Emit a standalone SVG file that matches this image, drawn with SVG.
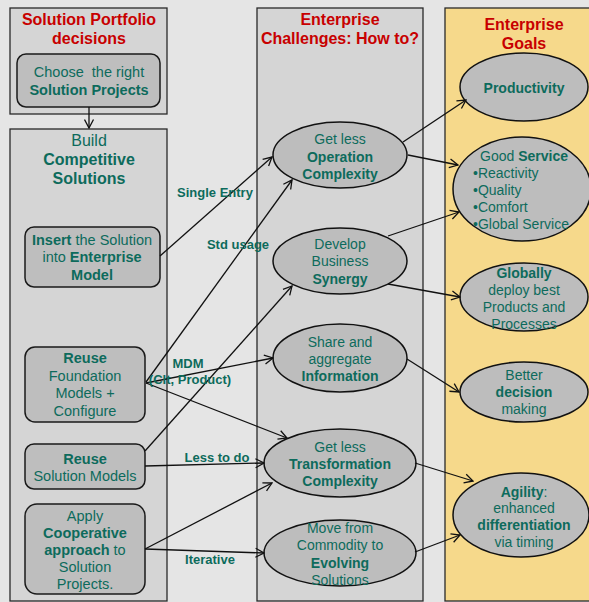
<svg xmlns="http://www.w3.org/2000/svg" width="589" height="602" viewBox="0 0 589 602">
  <defs>
    <marker id="arr" markerWidth="11" markerHeight="11" refX="10" refY="5.5" orient="auto" markerUnits="userSpaceOnUse">
      <path d="M1.5,1 L10,5.5 L1.5,10" fill="none" stroke="#111" stroke-width="1.3"/>
    </marker>
    <style>
      text { font-family: "Liberation Sans", Arial, sans-serif; fill: #0d6b5c; }
      .title { font-size: 16px; font-weight: bold; fill: #c80000; text-anchor: middle; }
      .big { font-size: 16px; text-anchor: middle; }
      .t { font-size: 14.5px; text-anchor: middle; }
      .e { font-size: 14px; text-anchor: middle; }
      .e.l { text-anchor: start; }
      .pre { white-space: pre; }
      .lbl { font-size: 13px; font-weight: bold; text-anchor: middle; }
      .b { font-weight: bold; }
      .panel { fill: #d5d5d5; stroke: #2a2a2a; stroke-width: 1.3; }
      .goalpanel { fill: #f6d98b; stroke: #2a2a2a; stroke-width: 1.3; }
      .box { fill: #bebebe; stroke: #1a1a1a; stroke-width: 1.5; }
      .oval { fill: #bdbdbd; stroke: #111; stroke-width: 1.5; }
      .conn line { stroke: #111; stroke-width: 1.3; marker-end: url(#arr); }
    </style>
  </defs>

  <rect width="589" height="602" fill="#e5e5e5"/>

  <!-- panels -->
  <g id="portfolio">
    <rect class="panel" x="10" y="8" width="157" height="106"/>
    <text class="title" x="89" y="25">Solution Portfolio</text>
    <text class="title" x="89" y="44">decisions</text>
  </g>
  <g id="build">
    <rect class="panel" x="10" y="129" width="157" height="472"/>
    <text class="big" x="89" y="146">Build</text>
    <text class="big b" x="89" y="165">Competitive</text>
    <text class="big b" x="89" y="184">Solutions</text>
  </g>
  <g id="challenges">
    <rect class="panel" x="257" y="8" width="166" height="593"/>
    <text class="title" x="340" y="25">Enterprise</text>
    <text class="title" x="340" y="44">Challenges: How to?</text>
  </g>
  <g id="goals">
    <rect class="goalpanel" x="445" y="8" width="160" height="593"/>
    <text class="title" x="524" y="30">Enterprise</text>
    <text class="title" x="524" y="49">Goals</text>
  </g>

  <!-- solution nodes -->
  <g id="choose">
    <rect class="box" x="17" y="54" width="143" height="53" rx="9"/>
    <text class="t pre" x="89" y="77">Choose  the right</text>
    <text class="t b" x="89" y="95">Solution Projects</text>
  </g>
  <g id="insert">
    <rect class="box" x="25" y="227" width="135" height="60" rx="9"/>
    <text class="t" x="92" y="245"><tspan class="b">Insert</tspan> the Solution</text>
    <text class="t" x="92" y="262">into <tspan class="b">Enterprise</tspan></text>
    <text class="t b" x="92" y="280">Model</text>
  </g>
  <g id="reuse-foundation">
    <rect class="box" x="25" y="347" width="120" height="75" rx="10"/>
    <text class="t b" x="85" y="363">Reuse</text>
    <text class="t" x="85" y="381">Foundation</text>
    <text class="t" x="85" y="398">Models +</text>
    <text class="t" x="85" y="416">Configure</text>
  </g>
  <g id="reuse-solution">
    <rect class="box" x="25" y="444" width="120" height="45" rx="9"/>
    <text class="t b" x="85" y="464">Reuse</text>
    <text class="t" x="85" y="481">Solution Models</text>
  </g>
  <g id="apply">
    <rect class="box" x="25" y="504" width="120" height="90" rx="12"/>
    <text class="t" x="85" y="521">Apply</text>
    <text class="t b" x="85" y="538">Cooperative</text>
    <text class="t" x="85" y="555"><tspan class="b">approach</tspan> to</text>
    <text class="t" x="85" y="572">Solution</text>
    <text class="t" x="85" y="589">Projects.</text>
  </g>

  <!-- challenge nodes -->
  <g id="operation">
    <ellipse class="oval" cx="340" cy="155" rx="67" ry="33"/>
    <text class="e" x="340" y="144">Get less</text>
    <text class="e b" x="340" y="162">Operation</text>
    <text class="e b" x="340" y="179">Complexity</text>
  </g>
  <g id="synergy">
    <ellipse class="oval" cx="340" cy="261" rx="67" ry="33"/>
    <text class="e" x="340" y="249">Develop</text>
    <text class="e" x="340" y="266">Business</text>
    <text class="e b" x="340" y="284">Synergy</text>
  </g>
  <g id="information">
    <ellipse class="oval" cx="340" cy="358" rx="67" ry="34"/>
    <text class="e" x="340" y="347">Share and</text>
    <text class="e" x="340" y="364">aggregate</text>
    <text class="e b" x="340" y="381">Information</text>
  </g>
  <g id="transformation">
    <ellipse class="oval" cx="340" cy="463" rx="76" ry="34"/>
    <text class="e" x="340" y="452">Get less</text>
    <text class="e b" x="340" y="469">Transformation</text>
    <text class="e b" x="340" y="486">Complexity</text>
  </g>
  <g id="evolving">
    <ellipse class="oval" cx="340" cy="553" rx="76" ry="33"/>
    <text class="e" x="340" y="533">Move from</text>
    <text class="e" x="340" y="550">Commodity to</text>
    <text class="e b" x="340" y="568">Evolving</text>
    <text class="e" x="340" y="585">Solutions</text>
  </g>

  <!-- goal nodes -->
  <g id="productivity">
    <ellipse class="oval" cx="524" cy="87" rx="64" ry="34"/>
    <text class="e b" x="524" y="93">Productivity</text>
  </g>
  <g id="service">
    <ellipse class="oval" cx="522" cy="189" rx="69" ry="52"/>
    <text class="e" x="524" y="161">Good <tspan class="b">Service</tspan></text>
    <text class="e l" x="473" y="178">•Reactivity</text>
    <text class="e l" x="473" y="195">•Quality</text>
    <text class="e l" x="473" y="212">•Comfort</text>
    <text class="e l" x="473" y="229">•Global Service</text>
  </g>
  <g id="globally">
    <ellipse class="oval" cx="524" cy="297" rx="64" ry="34"/>
    <text class="e b" x="524" y="278">Globally</text>
    <text class="e" x="524" y="295">deploy best</text>
    <text class="e" x="524" y="312">Products and</text>
    <text class="e" x="524" y="329">Processes</text>
  </g>
  <g id="decision">
    <ellipse class="oval" cx="524" cy="392" rx="64" ry="30"/>
    <text class="e" x="524" y="380">Better</text>
    <text class="e b" x="524" y="397">decision</text>
    <text class="e" x="524" y="414">making</text>
  </g>
  <g id="agility">
    <ellipse class="oval" cx="521" cy="515" rx="68" ry="42"/>
    <text class="e" x="524" y="497"><tspan class="b">Agility</tspan>:</text>
    <text class="e" x="524" y="513">enhanced</text>
    <text class="e b" x="524" y="530">differentiation</text>
    <text class="e" x="524" y="547">via timing</text>
  </g>

  <!-- connectors -->
  <g id="connectors" class="conn">
    <line x1="89" y1="107" x2="89" y2="128"/>
    <line x1="160" y1="256" x2="272" y2="157"/>
    <line x1="146" y1="382" x2="292" y2="180"/>
    <line x1="145" y1="451" x2="292" y2="286"/>
    <line x1="146" y1="383" x2="273" y2="358"/>
    <line x1="146" y1="383" x2="287" y2="438"/>
    <line x1="145" y1="466" x2="264" y2="463"/>
    <line x1="145" y1="549" x2="272" y2="483"/>
    <line x1="145" y1="549" x2="264" y2="553"/>

    <line x1="403" y1="142" x2="466" y2="100"/>
    <line x1="408" y1="155" x2="458" y2="165"/>
    <line x1="388" y1="236" x2="459" y2="212"/>
    <line x1="388" y1="284" x2="460" y2="297"/>
    <line x1="407" y1="359" x2="459" y2="392"/>
    <line x1="415" y1="463" x2="473" y2="481"/>
    <line x1="415" y1="552" x2="460" y2="535"/>
  </g>

  <!-- connector labels -->
  <g id="connector-labels">
    <text class="lbl" x="215" y="197">Single Entry</text>
    <text class="lbl" x="238" y="249">Std usage</text>
    <text class="lbl" x="188" y="368">MDM</text>
    <text class="lbl" x="190" y="384">(Clt, Product)</text>
    <text class="lbl" x="217" y="462">Less to do</text>
    <text class="lbl" x="210" y="564">Iterative</text>
  </g>
</svg>
